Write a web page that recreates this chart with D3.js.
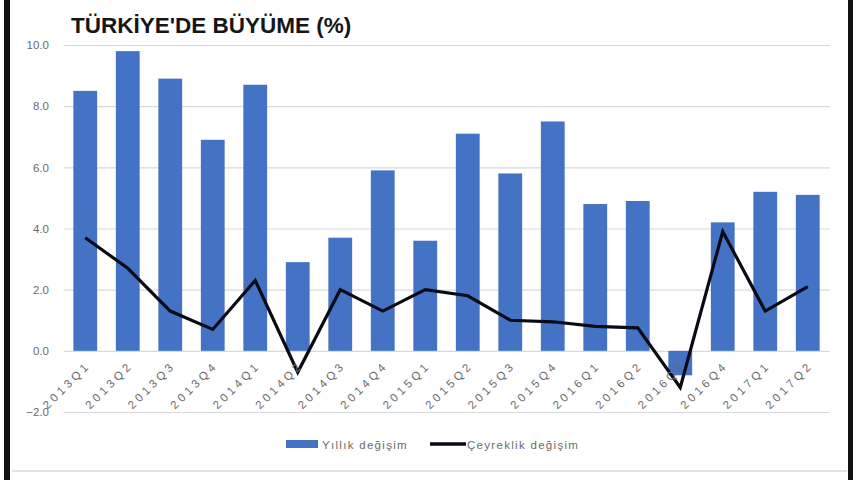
<!DOCTYPE html>
<html>
<head>
<meta charset="utf-8">
<script src="https://cdn.jsdelivr.net/npm/d3@7"></script>
<style>
  body { margin: 0; background: #fff; }
  svg { display: block; }
</style>
</head>
<body>
<div id="chart"></div>
<script>
var quarters = ["2013Q1", "2013Q2", "2013Q3", "2013Q4", "2014Q1", "2014Q2", "2014Q3", "2014Q4",
  "2015Q1", "2015Q2", "2015Q3", "2015Q4", "2016Q1", "2016Q2", "2016Q3", "2016Q4", "2017Q1", "2017Q2"];
var yillik = [8.5, 9.8, 8.9, 6.9, 8.7, 2.9, 3.7, 5.9, 3.6, 7.1, 5.8, 7.5, 4.8, 4.9, -0.8, 4.2, 5.2, 5.1];
var ceyreklik = [3.7, 2.7, 1.3, 0.7, 2.3, -0.7, 2.0, 1.3, 2.0, 1.8, 1.0, 0.95, 0.8, 0.75, -1.2, 3.9, 1.3, 2.1];
var yTicks = [-2, 0, 2, 4, 6, 8, 10];
var seriesNames = ["Yıllık değişim", "Çeyreklik değişim"];
var titleText = "TÜRKİYE'DE BÜYÜME (%)";

var svgWidth = 860;
var svgHeight = 480;

var svg = d3.select("#chart")
  .append("svg")
  .attr("width", svgWidth)
  .attr("height", svgHeight);

// frame: thick black sides, faint line at bottom
svg.append("rect").attr("x", 4).attr("y", 0).attr("width", 6).attr("height", svgHeight).attr("fill", "#111");
svg.append("rect").attr("x", 848).attr("y", 0).attr("width", 5).attr("height", svgHeight).attr("fill", "#111");
svg.append("line")
  .attr("x1", 12).attr("x2", 847)
  .attr("y1", 471).attr("y2", 471)
  .attr("stroke", "#d9d9d9").attr("stroke-width", 1.5);

var x = d3.scaleBand()
  .domain(quarters)
  .range([64, 829])
  .paddingInner(0.44)
  .paddingOuter(0.22);

var y = d3.scaleLinear()
  .domain([-2, 10])
  .range([412, 45]);

// gridlines
var yAxis = d3.axisLeft(y)
  .tickValues(yTicks)
  .tickSize(-(830 - 64))
  .tickPadding(12)
  .tickFormat(d3.format(".1f"));

var gy = svg.append("g")
  .attr("transform", "translate(64,0)")
  .call(yAxis);
gy.select(".domain").remove();
gy.selectAll(".tick line").attr("stroke", "#d9d9d9").attr("stroke-width", 1.2);
gy.selectAll(".tick text")
  .attr("fill", "#6b6b6b")
  .attr("font-family", "'Liberation Sans', Arial, sans-serif")
  .attr("font-size", 11.5)
  .attr("x", -15);

// bars
svg.selectAll("rect.bar")
  .data(yillik)
  .enter()
  .append("rect")
  .attr("class", "bar")
  .attr("x", (d, i) => x(quarters[i]))
  .attr("width", x.bandwidth())
  .attr("y", d => y(Math.max(0, d)))
  .attr("height", d => Math.abs(y(d) - y(0)))
  .attr("fill", "#4472c4");

// line
var line = d3.line()
  .x((d, i) => x(quarters[i]) + x.bandwidth() / 2)
  .y(d => y(d));

svg.append("path")
  .datum(ceyreklik)
  .attr("d", line)
  .attr("fill", "none")
  .attr("stroke", "#0a0a14")
  .attr("stroke-width", 3.2)
  .attr("stroke-linejoin", "miter");

// category labels
svg.selectAll("text.xlab")
  .data(quarters)
  .enter()
  .append("text")
  .attr("class", "xlab")
  .attr("transform", d => `translate(${x(d) + x.bandwidth() / 2 + 6}, 366) rotate(-45)`)
  .attr("text-anchor", "end")
  .attr("fill", "#6b6b6b")
  .attr("font-family", "'Liberation Sans', Arial, sans-serif")
  .attr("font-size", 11.5)
  .attr("letter-spacing", 3.5)
  .text(d => d);

// title
svg.append("text")
  .attr("x", 71)
  .attr("y", 33)
  .attr("font-family", "'Liberation Sans', Arial, sans-serif")
  .attr("font-weight", "bold")
  .attr("font-size", 22.5)
  .attr("fill", "#161616")
  .text(titleText);

// legend
var legend = svg.append("g")
  .attr("font-family", "'Liberation Sans', Arial, sans-serif")
  .attr("font-size", 11.5)
  .attr("letter-spacing", 1.3)
  .attr("fill", "#6b6b6b");
legend.append("rect")
  .attr("x", 286).attr("y", 440)
  .attr("width", 32).attr("height", 8)
  .attr("fill", "#4472c4");
legend.append("text")
  .attr("x", 322).attr("y", 449)
  .text(seriesNames[0]);
legend.append("line")
  .attr("x1", 430).attr("x2", 466)
  .attr("y1", 444).attr("y2", 444)
  .attr("stroke", "#0a0a14").attr("stroke-width", 3.5);
legend.append("text")
  .attr("x", 467).attr("y", 449)
  .text(seriesNames[1]);
</script>
</body>
</html>
